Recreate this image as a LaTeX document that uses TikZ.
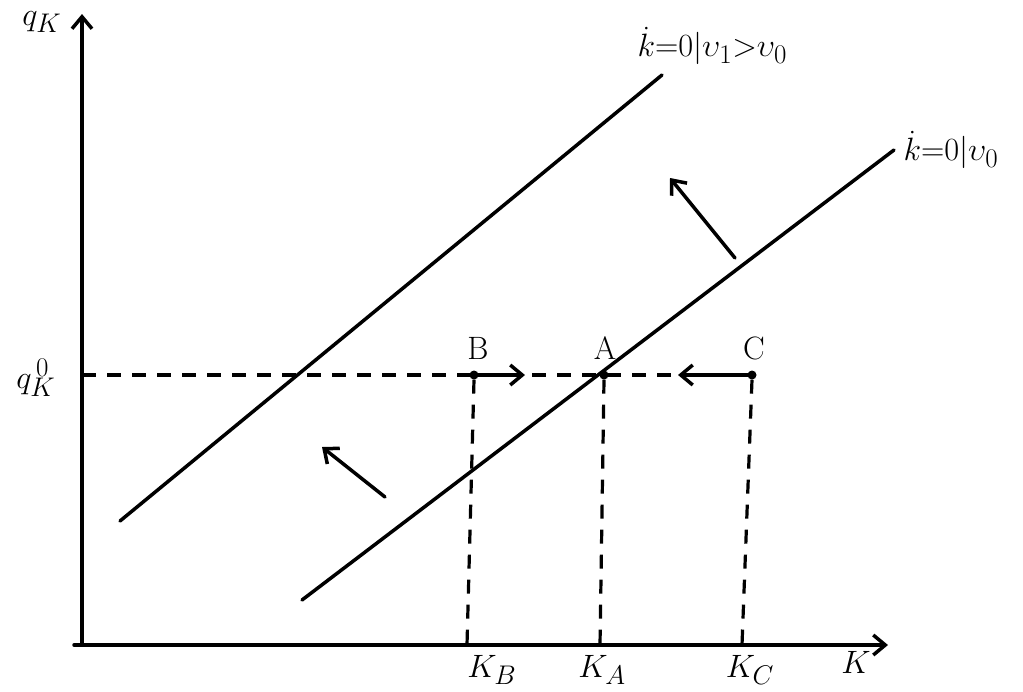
\documentclass[tikz,border=0pt]{standalone}
\usetikzlibrary{arrows.meta}
\begin{document}
\begin{tikzpicture}[x=1pt,y=-1pt,
  ln/.style={line width=3.5pt,line cap=round},
  dsh/.style={line width=3.2pt,dash pattern=on 14pt off 11pt},
  arr/.style={ln,-{Straight Barb[length=12pt,width=20pt,line width=3.5pt]}},
  lab/.style={font=\Huge,scale=1.3,inner sep=1pt},
  eq/.style={font=\Huge,scale=1.3,inner sep=1pt,anchor=west},
  pt/.style={circle,fill,inner sep=0pt,minimum size=9pt}]
\useasboundingbox (0,0) rectangle (1023,691);
% axes
\coordinate (ytop) at (82,14);
\coordinate (ybot) at (82,645);
\coordinate (xl) at (74,645);
\coordinate (xend) at (888,645);
\draw[arr] (ybot) -- (ytop);
\draw[arr] (xl) -- (xend);
\node[lab] (qk) at (42,22) {$q_K$};
\node[lab] (q0) at (36,378) {$q^{\,0}_{K}$};
\node[lab] (K) at (856,662) {$K$};
% points
\node[pt] (B) at (474,375) {};
\node[pt] (A) at (604,375) {};
\node[pt] (C) at (752,375) {};
\node[lab] (Bl) at (478,348) {B};
\node[lab] (Al) at (605,348) {A};
\node[lab] (Cl) at (754,348) {C};
\coordinate (qstart) at (82,375);
\draw[dsh] (qstart) -- (C);
% vertical dashed
\coordinate (kb) at (467,645);
\coordinate (ka) at (600,645);
\coordinate (kc) at (742,645);
\draw[dsh] (B.south) -- (kb);
\draw[dsh] (A.south) -- (ka);
\draw[dsh] (C.south) -- (kc);
\node[lab] (KB) at (492,670) {$K_B$};
\node[lab] (KA) at (602,670) {$K_A$};
\node[lab] (KC) at (750,670) {$K_C$};
% lines
\coordinate (v0a) at (302,600);
\coordinate (v0b) at (894,150);
\coordinate (v1a) at (120,521);
\coordinate (v1b) at (662,75);
\draw[ln] (v0a) -- (v0b);
\draw[ln] (v1a) -- (v1b);
\node[eq] (L1) at (636,46) {$\dot{k}{=}0|\upsilon_1{>}\upsilon_0$};
\node[eq] (L0) at (902,150) {$\dot{k}{=}0|\upsilon_0$};
% movement arrows
\coordinate (a1s) at (385,497);
\coordinate (a1e) at (322,447);
\coordinate (a2s) at (735,258);
\coordinate (a2e) at (670,178);
\draw[arr] (a1s) -- (a1e);
\draw[arr] (a2s) -- (a2e);
\coordinate (Be) at (525,375);
\coordinate (Ce) at (678,375);
\draw[arr] (B) -- (Be);
\draw[arr] (C) -- (Ce);
\end{tikzpicture}
\end{document}
